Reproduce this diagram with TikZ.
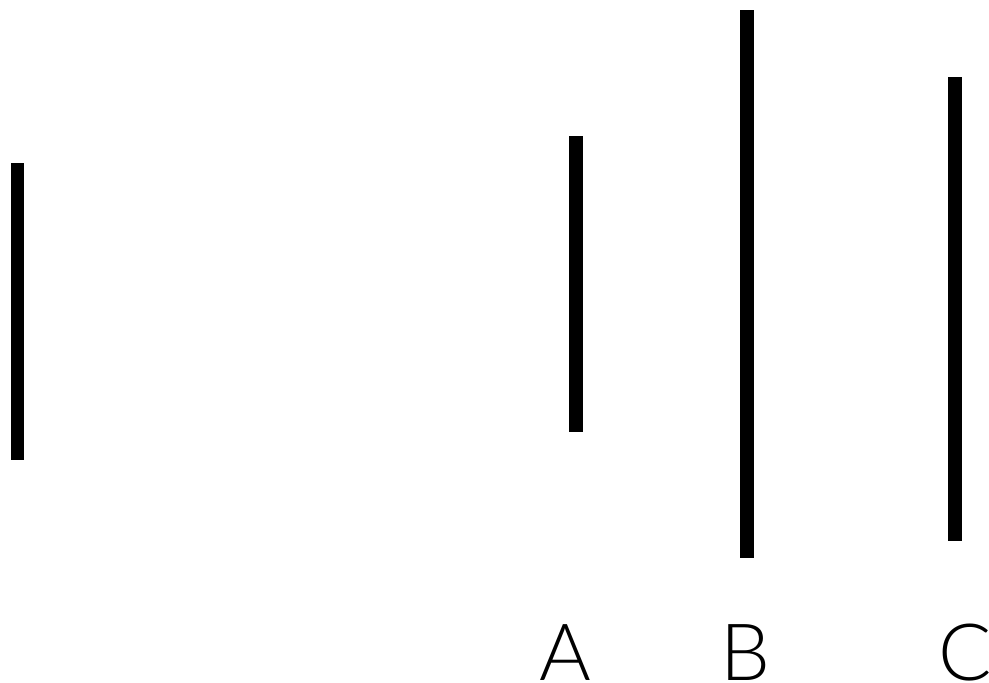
\documentclass[tikz,border=0pt]{standalone}
\usepackage{fontspec}
\newfontfamily\labfont{Lato Light}
\begin{document}
\begin{tikzpicture}[x=1pt,y=-1pt,
  bar/.style={line width=13.5pt,line cap=butt,black},
  lab/.style={font=\labfont\fontsize{79}{79}\selectfont,inner sep=0pt,anchor=base}]
\useasboundingbox (0,0) rectangle (989,683);
\draw[bar] (17.5,163) -- (17.5,460);
\draw[bar] (576,136) -- (576,432);
\draw[bar] (747,10) -- (747,558);
\draw[bar] (955,77) -- (955,541);
\node[lab] (la) at (565.5,680) {A};
\node[lab] (lb) at (745,680) {B};
\node[lab] (lc) at (965,680) {C};
\end{tikzpicture}
\end{document}
